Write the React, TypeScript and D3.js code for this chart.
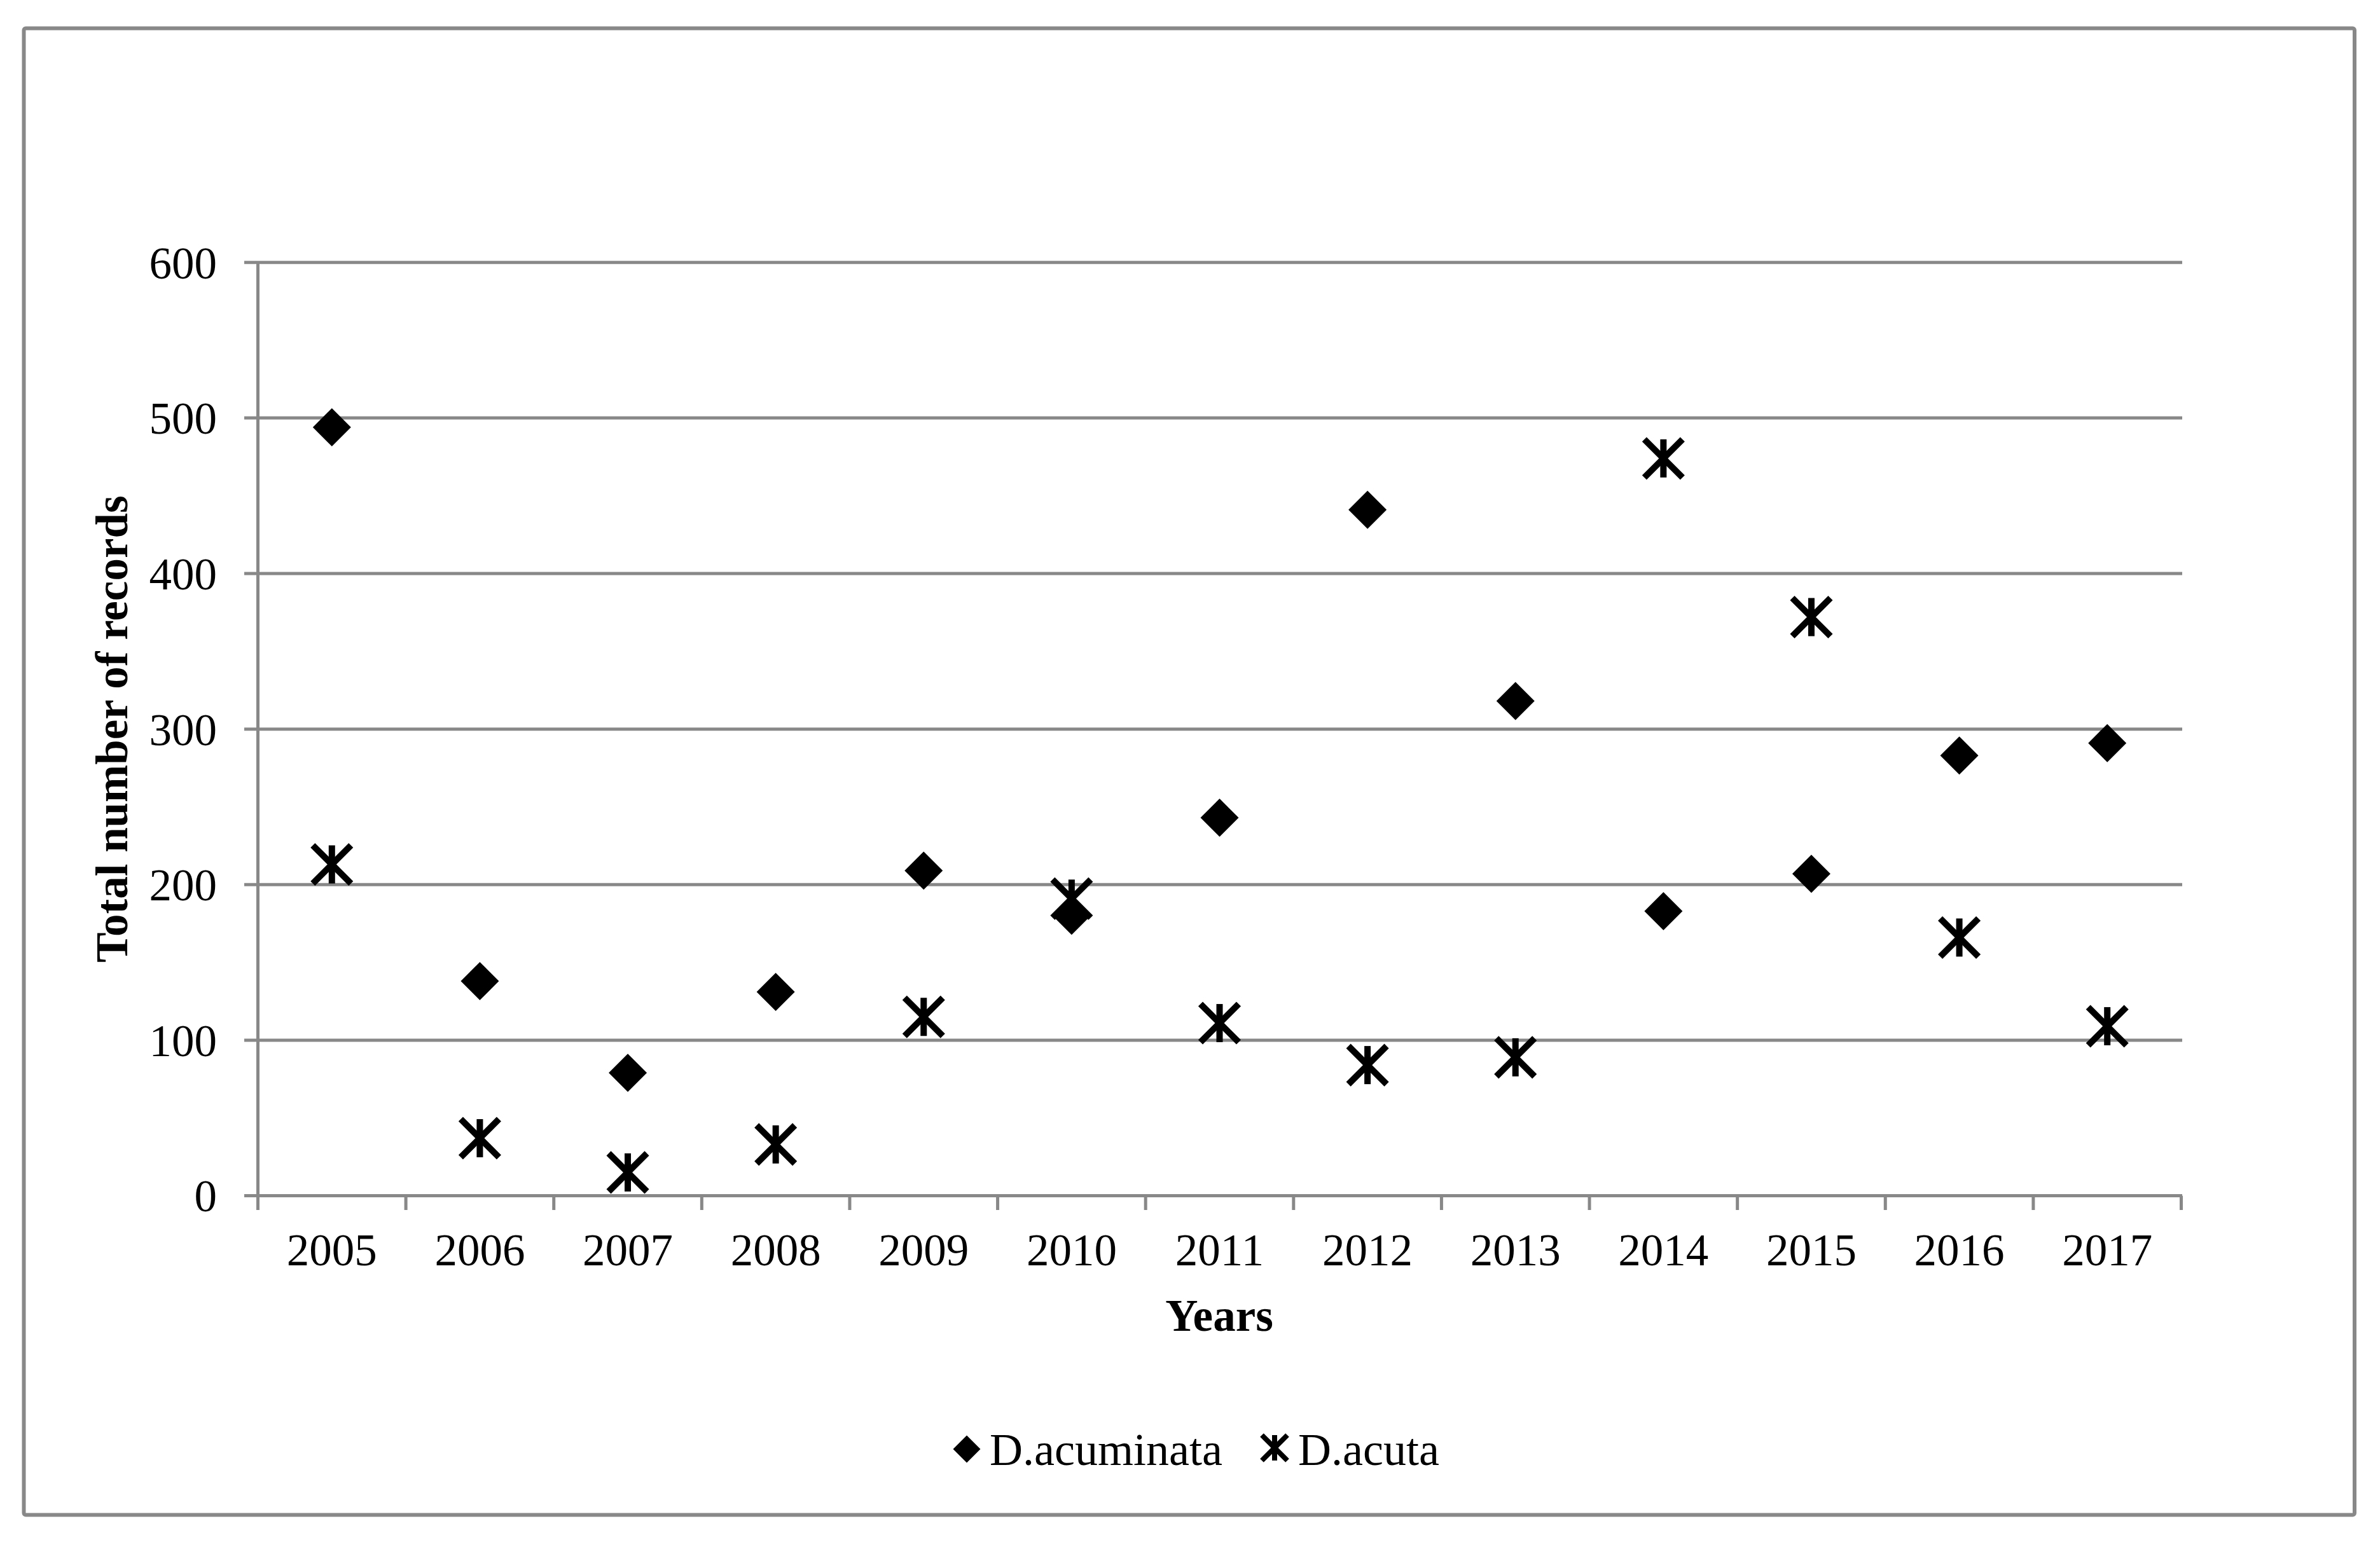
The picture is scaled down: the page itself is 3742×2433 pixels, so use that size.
import React from 'react';
import * as d3 from 'd3';

const years = ['2005', '2006', '2007', '2008', '2009', '2010', '2011', '2012', '2013', '2014', '2015', '2016', '2017'];
const acuminata = [494, 138, 79, 131, 209, 180, 243, 441, 318, 183, 207, 283, 291];
const acuta = [213, 37, 15, 33, 115, 191, 111, 84, 89, 474, 372, 166, 109];
const yTicks = [0, 100, 200, 300, 400, 500, 600];
const seriesNames = ['D.acuminata', 'D.acuta'];
const xTitle = 'Years';
const yTitle = 'Total number of records';

const W = 3742;
const H = 2433;
const FONT = '"Liberation Serif", "Times New Roman", serif';
const GRID = '#888888';

function Diamond({ cx, cy, r }: { cx: number; cy: number; r: number }) {
  return <path d={`M${cx},${cy - r}L${cx + r},${cy}L${cx},${cy + r}L${cx - r},${cy}Z`} fill="#000" />;
}

function Star({ cx, cy, r, sw }: { cx: number; cy: number; r: number; sw: number }) {
  return (
    <g stroke="#000" strokeWidth={sw} strokeLinecap="butt">
      <line x1={cx - r} y1={cy - r} x2={cx + r} y2={cy + r} />
      <line x1={cx - r} y1={cy + r} x2={cx + r} y2={cy - r} />
      <line x1={cx} y1={cy - r} x2={cx} y2={cy + r} />
    </g>
  );
}

export default function App() {
  const x = d3.scaleBand<string>().domain(years).range([405.5, 3429.5]).padding(0);
  const y = d3.scaleLinear().domain([0, 600]).range([1880.6, 412.7]);
  const bw = x.bandwidth();
  const gridLeft = 384;
  const gridRight = 3431;
  const tickBottom = 1903;

  return (
    <svg width={W} height={H} style={{ position: 'absolute', left: 0, top: 0, background: '#fff' }}>
      <rect x={0} y={0} width={W} height={H} fill="#fff" />
      <rect x={37.5} y={44.5} width={3664.5} height={2338} fill="none" stroke={GRID} strokeWidth={6} rx={3} />

      {/* gridlines + y ticks */}
      {yTicks.map((t) => (
        <line key={'g' + t} x1={gridLeft} x2={gridRight} y1={y(t)} y2={y(t)} stroke={GRID} strokeWidth={5} />
      ))}
      {/* y axis */}
      <line x1={405.5} x2={405.5} y1={y(600)} y2={tickBottom} stroke={GRID} strokeWidth={5} />
      {/* x ticks */}
      {years.map((yr, i) => {
        const bx = (x(yr) as number) + bw;
        return <line key={'xt' + i} x1={bx} x2={bx} y1={y(0)} y2={tickBottom} stroke={GRID} strokeWidth={5} />;
      })}

      {/* y tick labels */}
      {yTicks.map((t) => (
        <text key={'yl' + t} x={341} y={y(t)} dy="0.35em" textAnchor="end" fontFamily={FONT} fontSize={71} fill="#000">
          {t}
        </text>
      ))}
      {/* x tick labels */}
      {years.map((yr) => (
        <text key={'xl' + yr} x={(x(yr) as number) + bw / 2} y={1990} textAnchor="middle" fontFamily={FONT} fontSize={71} fill="#000">
          {yr}
        </text>
      ))}

      {/* axis titles */}
      <text x={1917} y={2093} textAnchor="middle" fontFamily={FONT} fontSize={71} fontWeight="bold" fill="#000">
        {xTitle}
      </text>
      <text
        transform={`translate(200, ${(y(0) + y(600)) / 2}) rotate(-90)`}
        textAnchor="middle"
        fontFamily={FONT}
        fontSize={71}
        fontWeight="bold"
        fill="#000"
      >
        {yTitle}
      </text>

      {/* data */}
      {years.map((yr, i) => (
        <Diamond key={'d' + yr} cx={(x(yr) as number) + bw / 2} cy={y(acuminata[i])} r={30} />
      ))}
      {years.map((yr, i) => (
        <Star key={'s' + yr} cx={(x(yr) as number) + bw / 2} cy={y(acuta[i])} r={30} sw={10} />
      ))}

      {/* legend */}
      <Diamond cx={1520} cy={2279} r={21.5} />
      <text x={1556} y={2304} fontFamily={FONT} fontSize={72} fill="#000">
        {seriesNames[0]}
      </text>
      <Star cx={2004} cy={2277} r={20} sw={8} />
      <text x={2041} y={2304} fontFamily={FONT} fontSize={72} fill="#000">
        {seriesNames[1]}
      </text>
    </svg>
  );
}
